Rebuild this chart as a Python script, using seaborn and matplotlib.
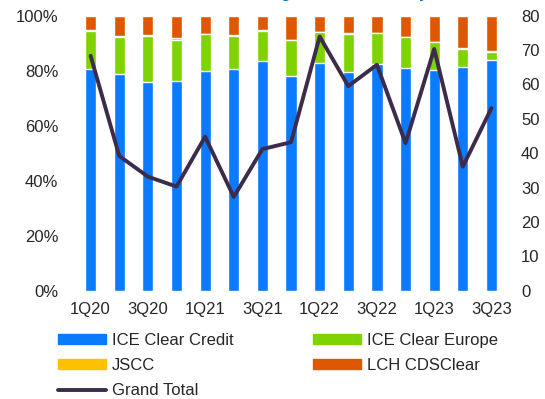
import numpy as np
import pandas as pd
import matplotlib
matplotlib.use("Agg")
import matplotlib.pyplot as plt
import seaborn as sns
from matplotlib.patches import Patch
from matplotlib.lines import Line2D

# data (share of each CCP, % of total; grand total on right axis)
quarters = ["1Q20", "2Q20", "3Q20", "4Q20", "1Q21", "2Q21", "3Q21", "4Q21",
            "1Q22", "2Q22", "3Q22", "4Q22", "1Q23", "2Q23", "3Q23"]
ice_credit = [80.6, 78.6, 75.9, 76.3, 79.9, 80.6, 83.5, 78.0, 82.9, 79.5, 82.3, 80.8, 80.1, 81.2, 83.8]
ice_europe = [13.8, 13.5, 16.7, 15.0, 13.3, 11.9, 11.0, 13.0, 11.0, 13.7, 11.2, 11.3, 10.2, 6.8, 3.1]
jscc = [0.2, 0.3, 0.2, 0.5, 0.2, 0.4, 0.2, 0.3, 0.2, 0.3, 0.2, 0.2, 0.2, 0.1, 0.1]
grand_total = [68.3, 39.2, 33.2, 30.3, 44.8, 27.3, 41.2, 43.2, 73.9, 59.5, 65.7, 42.9, 70.3, 36.1, 53.1]

df = pd.DataFrame({"Quarter": quarters, "ICE Clear Credit": ice_credit,
                   "ICE Clear Europe": ice_europe, "JSCC": jscc})
df["LCH CDSClear"] = 100 - df["ICE Clear Credit"] - df["ICE Clear Europe"] - df["JSCC"]

colors = {"ICE Clear Credit": "#0A7BFF", "ICE Clear Europe": "#7ED300",
          "JSCC": "#FFC000", "LCH CDSClear": "#DD5800"}
line_color = "#3D2B4B"
fs = 12

sns.set_style("white")
plt.rcParams["font.family"] = ["Liberation Sans", "DejaVu Sans"]

fig = plt.figure(figsize=(5.45, 3.99), dpi=100)
ax = fig.add_axes([0.14, 0.271, 0.788, 0.69])

# stacked bars: draw cumulative layers from top down
layers = ["ICE Clear Credit", "ICE Clear Europe", "JSCC", "LCH CDSClear"]
cum = df[layers].cumsum(axis=1)
for name in reversed(layers):
    sns.barplot(x=df["Quarter"], y=cum[name], color=colors[name], width=0.39,
                saturation=1, ax=ax, order=quarters)

ax.set_ylim(0, 100)
ax.set_yticks(range(0, 101, 20))
ax.set_yticklabels([f"{v}%" for v in range(0, 101, 20)], fontsize=fs)
ax.set_xticks(range(0, len(quarters), 2))
ax.set_xticklabels(quarters[::2], fontsize=fs)
ax.set_xlabel("")
ax.set_ylabel("")
ax.tick_params(axis="y", length=0, pad=13)
ax.tick_params(axis="x", length=0, pad=8)
ax.set_xlim(-0.5, len(quarters) - 0.5)

ax2 = ax.twinx()
sns.lineplot(x=np.arange(len(quarters)), y=grand_total, color=line_color, lw=2.8,
             ax=ax2, sort=False)
ax2.set_ylim(0, 80)
ax2.set_yticks(range(0, 81, 10))
ax2.tick_params(length=0, labelsize=fs, pad=11)
ax2.set_ylabel("")

for a in (ax, ax2):
    for s in a.spines.values():
        s.set_visible(False)

# title, mostly cropped off at the top of the image
fig.text(0.57, 1.005, "CDS Clearing Share and Activity", color="#0070C0",
         fontsize=11, fontweight="bold", ha="center", va="baseline")

handles = [Patch(color=colors["ICE Clear Credit"], label="ICE Clear Credit"),
           Patch(color=colors["JSCC"], label="JSCC"),
           Line2D([0], [0], color=line_color, lw=2.8, label="Grand Total"),
           Patch(color=colors["ICE Clear Europe"], label="ICE Clear Europe"),
           Patch(color=colors["LCH CDSClear"], label="LCH CDSClear")]
fig.legend(handles=handles, ncol=2, loc="upper left", bbox_to_anchor=(0.106, 0.166),
           frameon=False, fontsize=fs, handlelength=2.9, handleheight=0.55,
           handletextpad=0.35, columnspacing=4.75, labelspacing=0.62,
           borderpad=0, borderaxespad=0)

fig.savefig("out.png", dpi=100)
